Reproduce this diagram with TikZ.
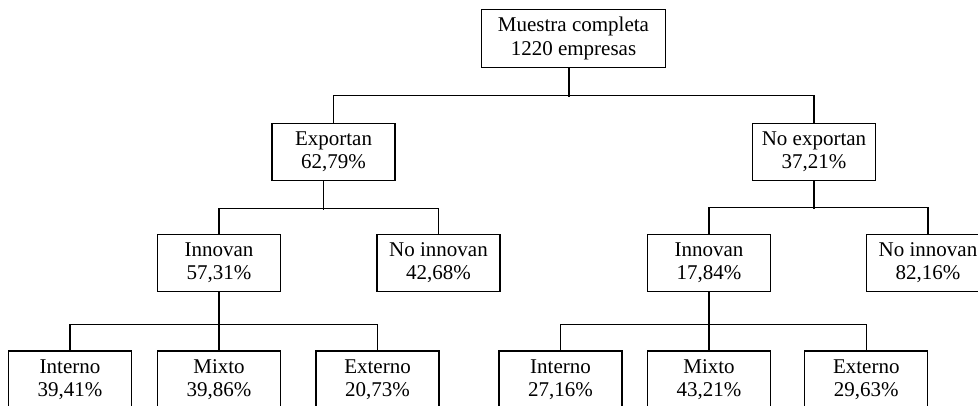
\documentclass[tikz,border=0pt]{standalone}
\usepackage{fontspec}
\setmainfont{Liberation Serif}
\begin{document}
\begin{tikzpicture}[
  box/.style={draw=black, line width=1.15pt, minimum width=123pt, minimum height=57.5pt,
    inner sep=0pt, align=center, font=\fontsize{21}{23.3}\selectfont},
  link/.style={draw=black, line width=1.15pt}
]
\clip (0pt,0pt) rectangle (978pt,-406pt);
% level 1
\node[box, minimum width=183.5pt] (root) at (573.5pt,-38.5pt) {Muestra completa\\1220 empresas};
% level 2
\node[box] (exp)  at (333.5pt,-152pt) {Exportan\\62,79\%};
\node[box] (nexp) at (814pt,-152pt) {No exportan\\37,21\%};
% level 3
\node[box] (innL)  at (219pt,-263pt) {Innovan\\57,31\%};
\node[box] (ninnL) at (438.5pt,-263pt) {No innovan\\42,68\%};
\node[box] (innR)  at (709pt,-263pt) {Innovan\\17,84\%};
\node[box] (ninnR) at (928pt,-263pt) {No innovan\\82,16\%};
% level 4
\node[box] (intL) at (70pt,-379.7pt) {Interno\\39,41\%};
\node[box] (mixL) at (219pt,-379.7pt) {Mixto\\39,86\%};
\node[box] (extL) at (377.5pt,-379.7pt) {Externo\\20,73\%};
\node[box] (intR) at (560.5pt,-379.7pt) {Interno\\27,16\%};
\node[box] (mixR) at (709pt,-379.7pt) {Mixto\\43,21\%};
\node[box] (extR) at (866.3pt,-379.7pt) {Externo\\29,63\%};
% connectors
\draw[link] ([xshift=-4.5pt]root.south) -- ++(0pt,-29.5pt);
\draw[link] (exp.north) -- ++(0pt,26.8pt) -| (nexp.north);
\draw[link] ([xshift=-10pt]exp.south) -- ++(0pt,-28.5pt);
\draw[link] (innL.north) -- ++(0pt,25.5pt) -| (ninnL.north);
\draw[link] (nexp.south) -- ++(0pt,-28pt);
\draw[link] (innR.north) -- ++(0pt,26pt) -| (ninnR.north);
\draw[link] (intL.north) -- ++(0pt,25.7pt) -| (extL.north);
\draw[link] (innL.south) -- (mixL.north);
\draw[link] (intR.north) -- ++(0pt,25.7pt) -| (extR.north);
\draw[link] (innR.south) -- (mixR.north);
\end{tikzpicture}
\end{document}
